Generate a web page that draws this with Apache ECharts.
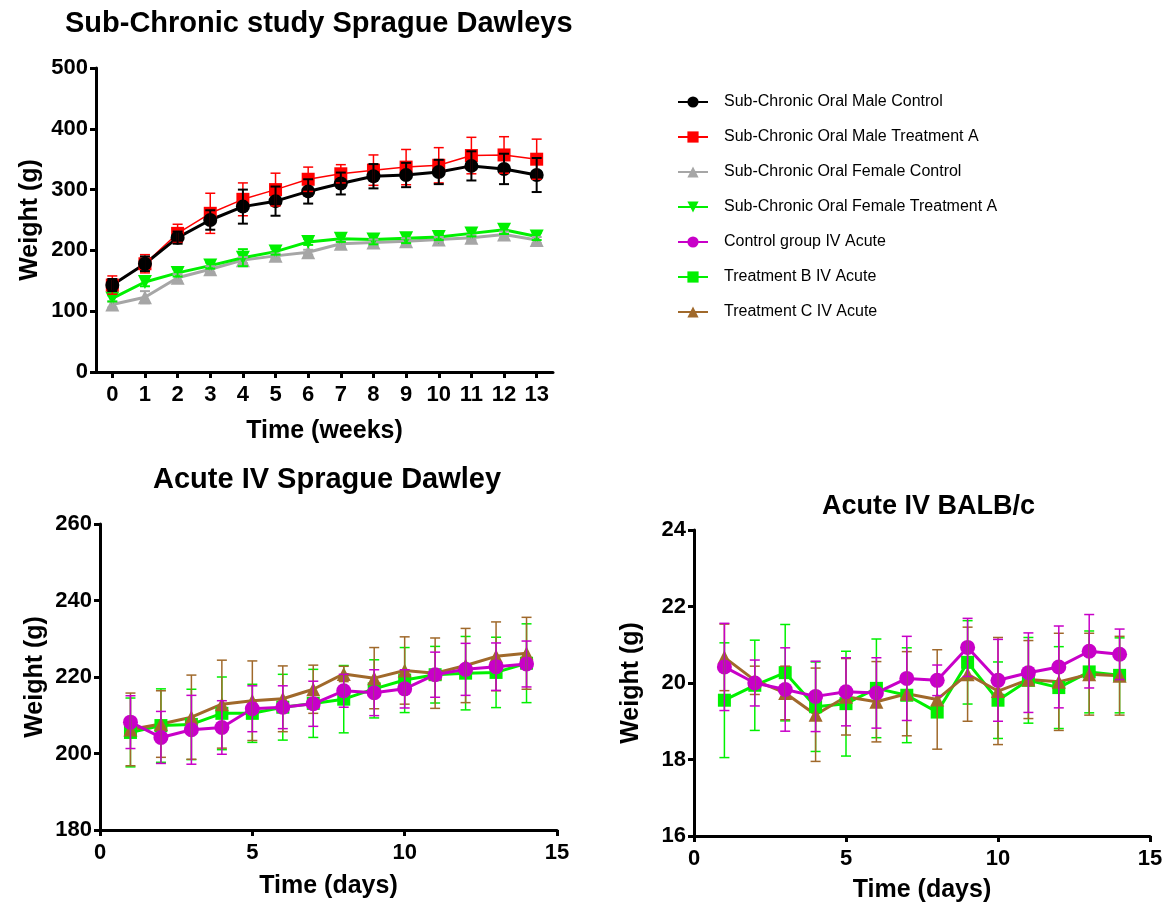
<!DOCTYPE html>
<html>
<head>
<meta charset="utf-8">
<script src="https://cdn.jsdelivr.net/npm/echarts@6/dist/echarts.min.js"></script>
<style>
  html, body { margin: 0; padding: 0; background: #fff; }
  #main { width: 1169px; height: 911px; }
</style>
</head>
<body>
<div id="main"></div>
<script>
// sub-chronic study, weeks 0..13
var weeks = ['0','1','2','3','4','5','6','7','8','9','10','11','12','13'];
var maleControl    = [143, 178, 221, 250, 272, 281, 297, 310, 322, 324, 329, 339, 334, 324];
var maleControlSd  = [10, 12, 10, 16, 28, 24, 20, 18, 20, 20, 20, 24, 25, 28];
var maleTreatA     = [143, 178, 228, 261, 284, 300, 317, 326, 332, 337, 340, 356, 357, 350];
var maleTreatASd   = [15, 15, 15, 33, 27, 27, 20, 15, 25, 29, 29, 30, 30, 33];
var femControl     = [111, 123, 155, 169, 184, 191, 197, 211, 213, 215, 218, 221, 226, 217];
var femControlSd   = [5, 10, 6, 5, 5, 4, 4, 4, 5, 5, 4, 4, 5, 5];
var femTreatA      = [121, 148, 163, 175, 188, 198, 214, 219, 218, 220, 222, 228, 234, 223];
var femTreatASd    = [5, 7, 6, 5, 14, 5, 5, 5, 8, 8, 5, 5, 7, 6];

// acute IV, days 1..14
var days = [1, 2, 3, 4, 5, 6, 7, 8, 9, 10, 11, 12, 13, 14];
var sdControl   = [208.2, 204.2, 206.2, 206.8, 211.7, 212.1, 213.0, 216.4, 215.9, 216.9, 220.6, 222.0, 222.7, 223.4];
var sdControlE  = [6.9, 6.8, 9.0, 7.0, 6.0, 5.6, 5.9, 4.3, 6.0, 5.0, 5.9, 6.8, 6.2, 6.0];
var sdTreatB    = [205.5, 207.3, 207.6, 210.5, 210.5, 212.1, 213.1, 214.2, 216.9, 219.2, 220.6, 221.0, 221.2, 223.6];
var sdTreatBE   = [9.0, 9.6, 9.2, 9.5, 7.6, 8.6, 8.9, 8.8, 7.6, 8.5, 7.4, 9.6, 9.2, 10.3];
var sdTreatC    = [206.3, 207.7, 209.5, 212.9, 213.8, 214.3, 216.8, 220.8, 219.7, 221.7, 221.0, 223.0, 225.4, 226.2];
var sdTreatCE   = [9.5, 8.7, 11.0, 11.5, 10.4, 8.6, 6.3, 2.0, 8.0, 8.8, 9.2, 9.7, 9.0, 9.4];

var bcControl   = [20.42, 20.00, 19.83, 19.65, 19.77, 19.74, 20.12, 20.07, 20.93, 20.07, 20.27, 20.42, 20.83, 20.75];
var bcControlE  = [1.14, 0.60, 1.09, 0.92, 0.89, 0.92, 1.10, 0.40, 0.76, 1.07, 1.04, 1.07, 0.96, 0.66];
var bcTreatB    = [19.55, 19.94, 20.27, 19.38, 19.46, 19.86, 19.68, 19.24, 20.54, 19.55, 20.07, 19.88, 20.29, 20.20];
var bcTreatBE   = [1.50, 1.18, 1.26, 1.17, 1.37, 1.29, 1.24, 0.10, 1.09, 1.00, 1.12, 1.07, 1.07, 0.98];
var bcTreatC    = [20.67, 20.07, 19.74, 19.17, 19.64, 19.51, 19.72, 19.57, 20.23, 19.79, 20.09, 20.03, 20.23, 20.19];
var bcTreatCE   = [0.87, 0.37, 0.70, 1.22, 1.00, 1.05, 1.10, 1.30, 1.23, 1.40, 1.02, 1.27, 1.07, 1.03];

var font = 'Liberation Sans, Arial, sans-serif';

function pairs(xs, ys) {
    return ys.map(function (v, i) { return [xs[i], v]; });
}
function triples(xs, ys, es) {
    return ys.map(function (v, i) { return [xs[i], v, es[i]]; });
}

// mean +/- sd whisker with caps
function errorBar(color, width) {
    return function (params, api) {
        var x = api.value(0), m = api.value(1), e = api.value(2);
        var hi = api.coord([x, m + e]);
        var lo = api.coord([x, m - e]);
        var cap = 5;
        var st = { stroke: color, lineWidth: width };
        return {
            type: 'group',
            children: [
                { type: 'line', shape: { x1: hi[0], y1: hi[1], x2: lo[0], y2: lo[1] }, style: st },
                { type: 'line', shape: { x1: hi[0] - cap, y1: hi[1], x2: hi[0] + cap, y2: hi[1] }, style: st },
                { type: 'line', shape: { x1: lo[0] - cap, y1: lo[1], x2: lo[0] + cap, y2: lo[1] }, style: st }
            ]
        };
    };
}

function lineSeries(name, data, gi, color, symbol, size, width, rotate) {
    return {
        name: name, type: 'line', xAxisIndex: gi, yAxisIndex: gi,
        data: data, symbol: symbol, symbolSize: size, symbolRotate: rotate || 0,
        itemStyle: { color: color },
        lineStyle: { color: color, width: width },
        emphasis: { disabled: true }, z: 3
    };
}
function errSeries(name, data, gi, color, width) {
    return {
        name: name, type: 'custom', xAxisIndex: gi, yAxisIndex: gi,
        data: data, encode: { x: 0, y: 1 },
        renderItem: errorBar(color, width), z: 4, silent: true
    };
}

var labelStyle = { margin: 12, fontFamily: font, fontWeight: 'bold', fontSize: 22, color: '#000' };
var nameStyle = { fontFamily: font, fontWeight: 'bold', fontSize: 25, color: '#000' };
var titleStyle = { fontFamily: font, fontWeight: 'bold', fontSize: 29, color: '#000' };

function axis(extra) {
    var a = {
        axisLine: { show: true, lineStyle: { color: '#000', width: 3 } },
        axisTick: { show: true, length: 6, lineStyle: { color: '#000', width: 3 } },
        splitLine: { show: false },
        nameLocation: 'middle',
        nameTextStyle: nameStyle
    };
    for (var k in extra) a[k] = extra[k];
    return a;
}

var names = [
    'Sub-Chronic Oral Male Control',
    'Sub-Chronic Oral Male Treatment A',
    'Sub-Chronic Oral Female Control',
    'Sub-Chronic Oral Female Treatment A',
    'Control group IV Acute',
    'Treatment B IV Acute',
    'Treatment C IV Acute'
];
var cBlack = '#000000', cRed = '#ff0000', cGray = '#a6a6a6', cGreen = '#00f000',
    cMag = '#c800c8', cBrown = '#a0692b';

var myChart = echarts.init(document.getElementById('main'));
var idx = weeks.map(function (w, i) { return i; });

option = {
    backgroundColor: '#fff',
    animation: false,
    title: [
        { text: 'Sub-Chronic study Sprague Dawleys', left: 60, top: 4, textStyle: titleStyle },
        { text: 'Acute IV Sprague Dawley', left: 148, top: 460, textStyle: titleStyle },
        { text: 'Acute IV BALB/c', left: 817, top: 488,
          textStyle: { fontFamily: font, fontWeight: 'bold', fontSize: 27, color: '#000' } }
    ],
    legend: {
        data: names, orient: 'vertical', left: 672, top: 88,
        itemWidth: 30, itemHeight: 14, itemGap: 17,
        textStyle: { fontFamily: font, fontSize: 16, lineHeight: 18, color: '#000', padding: [0, 0, 0, 11] }
    },
    grid: [
        { left: 96, right: 616, top: 68, bottom: 539, outerBoundsMode: 'none' },
        { left: 100, right: 612, top: 524, bottom: 81, outerBoundsMode: 'none' },
        { left: 694, right: 19, top: 530, bottom: 75, outerBoundsMode: 'none' }
    ],
    xAxis: [
        axis({ gridIndex: 0, type: 'category', data: weeks, boundaryGap: true,
            axisTick: { show: true, alignWithLabel: true, length: 6, lineStyle: { color: '#000', width: 3 } },
            axisLabel: labelStyle, name: 'Time (weeks)', nameGap: 47 }),
        axis({ gridIndex: 1, type: 'value', min: 0, max: 15, interval: 5,
            axisLabel: labelStyle, name: 'Time (days)', nameGap: 44 }),
        axis({ gridIndex: 2, type: 'value', min: 0, max: 15, interval: 5,
            axisLabel: labelStyle, name: 'Time (days)', nameGap: 42 })
    ],
    yAxis: [
        axis({ gridIndex: 0, type: 'value', min: 0, max: 500, interval: 100,
            axisLabel: { margin: 8, fontFamily: font, fontWeight: 'bold', fontSize: 22, color: '#000' },
            name: 'Weight (g)', nameGap: 53 }),
        axis({ gridIndex: 1, type: 'value', min: 180, max: 260, interval: 20,
            axisLabel: { margin: 8, fontFamily: font, fontWeight: 'bold', fontSize: 22, color: '#000' },
            name: 'Weight (g)', nameGap: 52 }),
        axis({ gridIndex: 2, type: 'value', min: 16, max: 24, interval: 2,
            axisLabel: { margin: 8, fontFamily: font, fontWeight: 'bold', fontSize: 22, color: '#000' },
            name: 'Weight (g)', nameGap: 50 })
    ],
    // drawing order: later series sit on top
    series: [
        lineSeries(names[2], pairs(idx, femControl), 0, cGray, 'triangle', 14, 3),
        lineSeries(names[3], pairs(idx, femTreatA), 0, cGreen, 'triangle', 14, 3, 180),
        lineSeries(names[1], pairs(idx, maleTreatA), 0, cRed, 'rect', 13, 1.5),
        lineSeries(names[0], pairs(idx, maleControl), 0, cBlack, 'circle', 14, 3),
        lineSeries(names[5], pairs(days, sdTreatB), 1, cGreen, 'rect', 13, 3),
        lineSeries(names[6], pairs(days, sdTreatC), 1, cBrown, 'triangle', 14, 3),
        lineSeries(names[4], pairs(days, sdControl), 1, cMag, 'circle', 15, 3),
        lineSeries(names[5], pairs(days, bcTreatB), 2, cGreen, 'rect', 13, 3),
        lineSeries(names[6], pairs(days, bcTreatC), 2, cBrown, 'triangle', 14, 3),
        lineSeries(names[4], pairs(days, bcControl), 2, cMag, 'circle', 15, 3),

        errSeries(names[2], triples(idx, femControl, femControlSd), 0, cGray, 2),
        errSeries(names[3], triples(idx, femTreatA, femTreatASd), 0, cGreen, 2),
        errSeries(names[1], triples(idx, maleTreatA, maleTreatASd), 0, cRed, 1.5),
        errSeries(names[0], triples(idx, maleControl, maleControlSd), 0, cBlack, 2),
        errSeries(names[5], triples(days, sdTreatB, sdTreatBE), 1, cGreen, 1.5),
        errSeries(names[6], triples(days, sdTreatC, sdTreatCE), 1, cBrown, 1.5),
        errSeries(names[4], triples(days, sdControl, sdControlE), 1, cMag, 1.5),
        errSeries(names[5], triples(days, bcTreatB, bcTreatBE), 2, cGreen, 1.5),
        errSeries(names[6], triples(days, bcTreatC, bcTreatCE), 2, cBrown, 1.5),
        errSeries(names[4], triples(days, bcControl, bcControlE), 2, cMag, 1.5)
    ]
};

myChart.setOption(option);
</script>
</body>
</html>
